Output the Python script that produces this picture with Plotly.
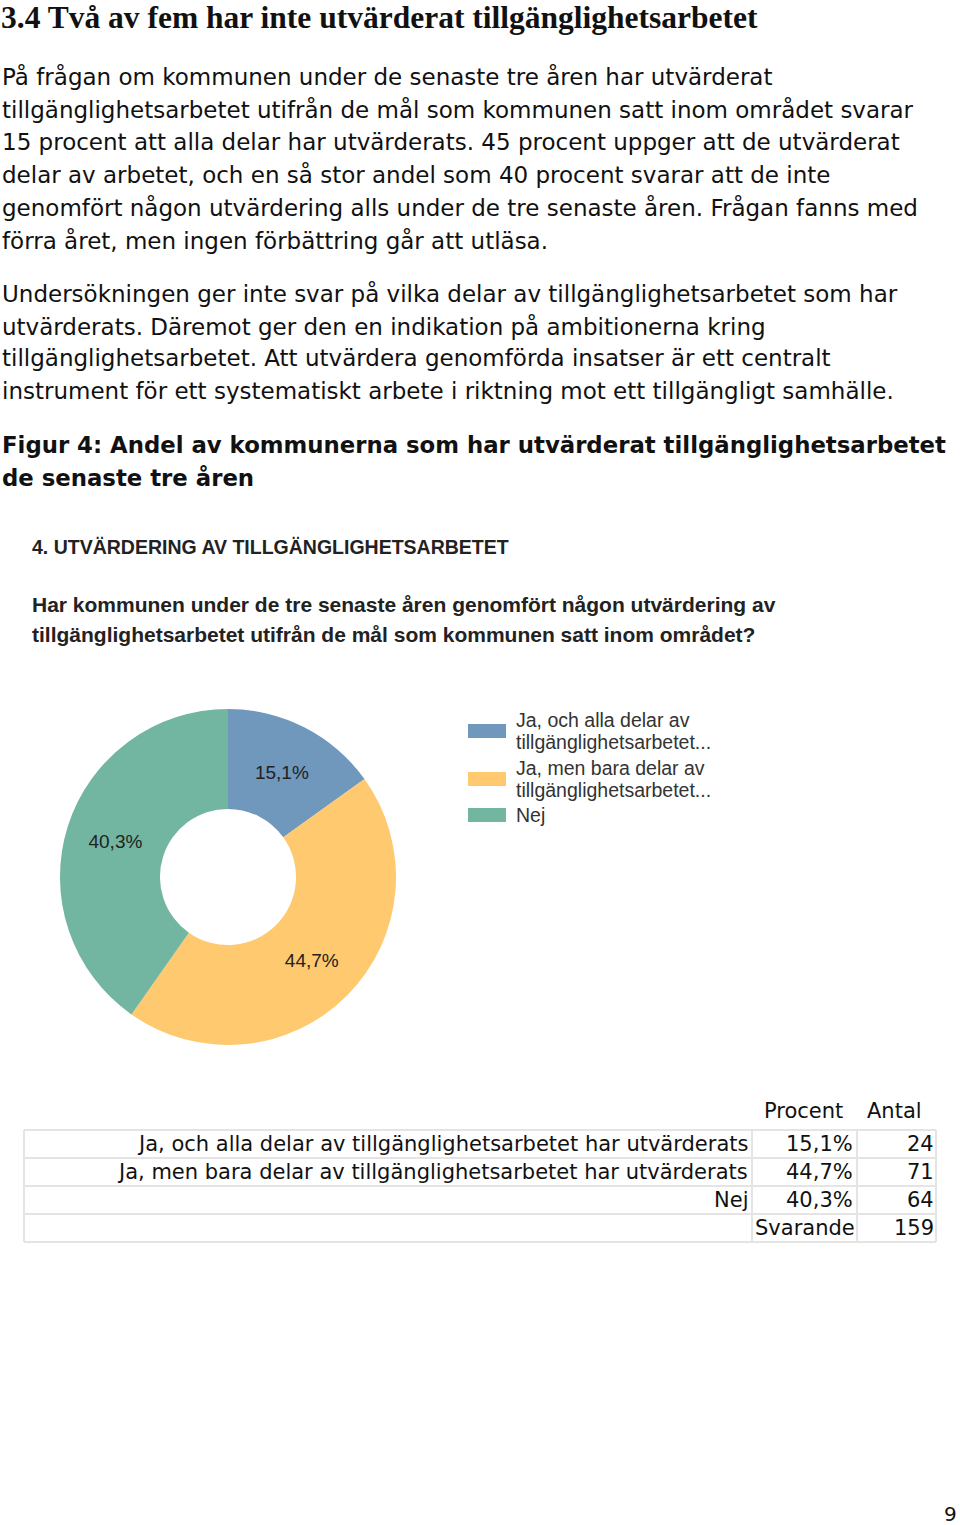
import plotly.graph_objects as go

W, H = 960, 1525

# ---- data ----
categories = ["Ja, och alla delar av tillgänglighetsarbetet har utvärderats",
              "Ja, men bara delar av tillgänglighetsarbetet har utvärderats",
              "Nej"]
legend_labels = [["Ja, och alla delar av", "tillgänglighetsarbetet..."],
                 ["Ja, men bara delar av", "tillgänglighetsarbetet..."],
                 ["Nej"]]
percents = [15.1, 44.7, 40.3]
counts = [24, 71, 64]
total_label = "Svarande"
total_count = 159
colors = ["#6f98bc", "#fec96f", "#72b5a0"]

heading = "3.4 Två av fem har inte utvärderat tillgänglighetsarbetet"
body_lines = [
    (76, "På frågan om kommunen under de senaste tre åren har utvärderat"),
    (109, "tillgänglighetsarbetet utifrån de mål som kommunen satt inom området svarar"),
    (142, "15 procent att alla delar har utvärderats. 45 procent uppger att de utvärderat"),
    (174, "delar av arbetet, och en så stor andel som 40 procent svarar att de inte"),
    (207, "genomfört någon utvärdering alls under de tre senaste åren. Frågan fanns med"),
    (240, "förra året, men ingen förbättring går att utläsa."),
    (293, "Undersökningen ger inte svar på vilka delar av tillgänglighetsarbetet som har"),
    (326, "utvärderats. Däremot ger den en indikation på ambitionerna kring"),
    (358, "tillgänglighetsarbetet. Att utvärdera genomförda insatser är ett centralt"),
    (391, "instrument för ett systematiskt arbete i riktning mot ett tillgängligt samhälle."),
]
caption_lines = [(445, "Figur 4: Andel av kommunerna som har utvärderat tillgänglighetsarbetet"),
                 (478, "de senaste tre åren")]
chart_title = "4. UTVÄRDERING AV TILLGÄNGLIGHETSARBETET"
question_lines = [(605, "Har kommunen under de tre senaste åren genomfört någon utvärdering av"),
                  (635, "tillgänglighetsarbetet utifrån de mål som kommunen satt inom området?")]
page_number = "9"


def px(x):
    return x / W


def py(y):
    return 1 - y / H


BODY = "DejaVu Sans, Verdana, sans-serif"
NARROW = "Liberation Sans, Arial, sans-serif"

fig = go.Figure()

pct_text = [f"{p:.1f}%".replace(".", ",") for p in percents]
fig.add_trace(go.Pie(
    values=counts,
    labels=categories,
    text=pct_text,
    textinfo="text",
    textposition="inside",
    insidetextorientation="horizontal",
    sort=False,
    direction="clockwise",
    rotation=0,
    hole=0.405,
    marker=dict(colors=colors, line=dict(width=0)),
    textfont=dict(family=NARROW, size=19, color="#222222"),
    domain=dict(x=[px(60), px(396)], y=[py(1045), py(709)]),
    showlegend=False,
    hoverinfo="label+value+percent",
))

ann = []
shapes = []

ann.append(dict(x=px(0), y=py(17), text=f"<b>{heading}</b>", xanchor="left", yanchor="middle",
                borderpad=0,
                font=dict(family="Liberation Serif, Times New Roman, serif", size=31.5, color="#111111")))
for y, t in body_lines:
    ann.append(dict(x=px(0), y=py(y), text=t, xanchor="left", yanchor="middle",
                    font=dict(family=BODY, size=23, color="#111111")))
for y, t in caption_lines:
    ann.append(dict(x=px(0), y=py(y), text=f"<b>{t}</b>", xanchor="left", yanchor="middle",
                    font=dict(family=BODY, size=22.8, color="#111111")))
ann.append(dict(x=px(30), y=py(547), text=f"<b>{chart_title}</b>", xanchor="left", yanchor="middle",
                font=dict(family=NARROW, size=19.5, color="#222222")))
for y, t in question_lines:
    ann.append(dict(x=px(30), y=py(y), text=f"<b>{t}</b>", xanchor="left", yanchor="middle",
                    font=dict(family=NARROW, size=21, color="#222222")))

# legend
leg_tops = [720, 768, 815]
for i, (lines, c) in enumerate(zip(legend_labels, colors)):
    top = leg_tops[i]
    nlines = len(lines)
    rect_c = top + (11 if nlines == 2 else 0)
    shapes.append(dict(type="rect", xref="paper", yref="paper",
                       x0=px(468), x1=px(506), y0=py(rect_c - 7), y1=py(rect_c + 7),
                       fillcolor=c, line=dict(width=0)))
    for j, t in enumerate(lines):
        ann.append(dict(x=px(514), y=py(top + 22 * j), text=t, xanchor="left", yanchor="middle",
                        font=dict(family=NARROW, size=19.5, color="#333333")))

# table
col_edges = [24, 752, 857, 936]
row_tops = [1130, 1158, 1186, 1214, 1242]
line_col = "#e4e4e4"
for x in col_edges:
    shapes.append(dict(type="line", xref="paper", yref="paper", x0=px(x), x1=px(x),
                       y0=py(row_tops[0]), y1=py(row_tops[-1]), line=dict(color=line_col, width=2)))
for y in row_tops:
    shapes.append(dict(type="line", xref="paper", yref="paper", x0=px(col_edges[0]), x1=px(col_edges[-1]),
                       y0=py(y), y1=py(y), line=dict(color=line_col, width=2)))

TF = dict(family=BODY, size=21, color="#111111")
ann.append(dict(x=px(845), y=py(1111), text="Procent", xanchor="right", yanchor="middle", font=TF))
ann.append(dict(x=px(924), y=py(1111), text="Antal", xanchor="right", yanchor="middle", font=TF))
row_labels = categories + [total_label]
row_pcts = pct_text + [None]
row_counts = counts + [total_count]
for i in range(4):
    yc = (row_tops[i] + row_tops[i + 1]) / 2
    if row_pcts[i] is not None:
        ann.append(dict(x=px(750), y=py(yc), text=row_labels[i], xanchor="right", yanchor="middle", font=TF))
        ann.append(dict(x=px(855), y=py(yc), text=row_pcts[i], xanchor="right", yanchor="middle", font=TF))
    else:
        ann.append(dict(x=px(857), y=py(yc), text=row_labels[i], xanchor="right", yanchor="middle", font=TF))
    ann.append(dict(x=px(936), y=py(yc), text=str(row_counts[i]), xanchor="right", yanchor="middle", font=TF))

ann.append(dict(x=px(958), y=py(1514), text=page_number, xanchor="right", yanchor="middle",
                borderpad=0, font=dict(family=BODY, size=20, color="#111111")))

for a in ann:
    a.setdefault("xref", "paper")
    a.setdefault("yref", "paper")
    a["showarrow"] = False

fig.update_layout(
    width=W, height=H,
    margin=dict(l=0, r=0, t=0, b=0),
    paper_bgcolor="white", plot_bgcolor="white",
    annotations=ann, shapes=shapes,
)

# remove the default 8px page margin so the figure fills the window exactly
fig.write_html("out.html", config={"displayModeBar": False},
               post_script="document.body.style.margin='0px';")
